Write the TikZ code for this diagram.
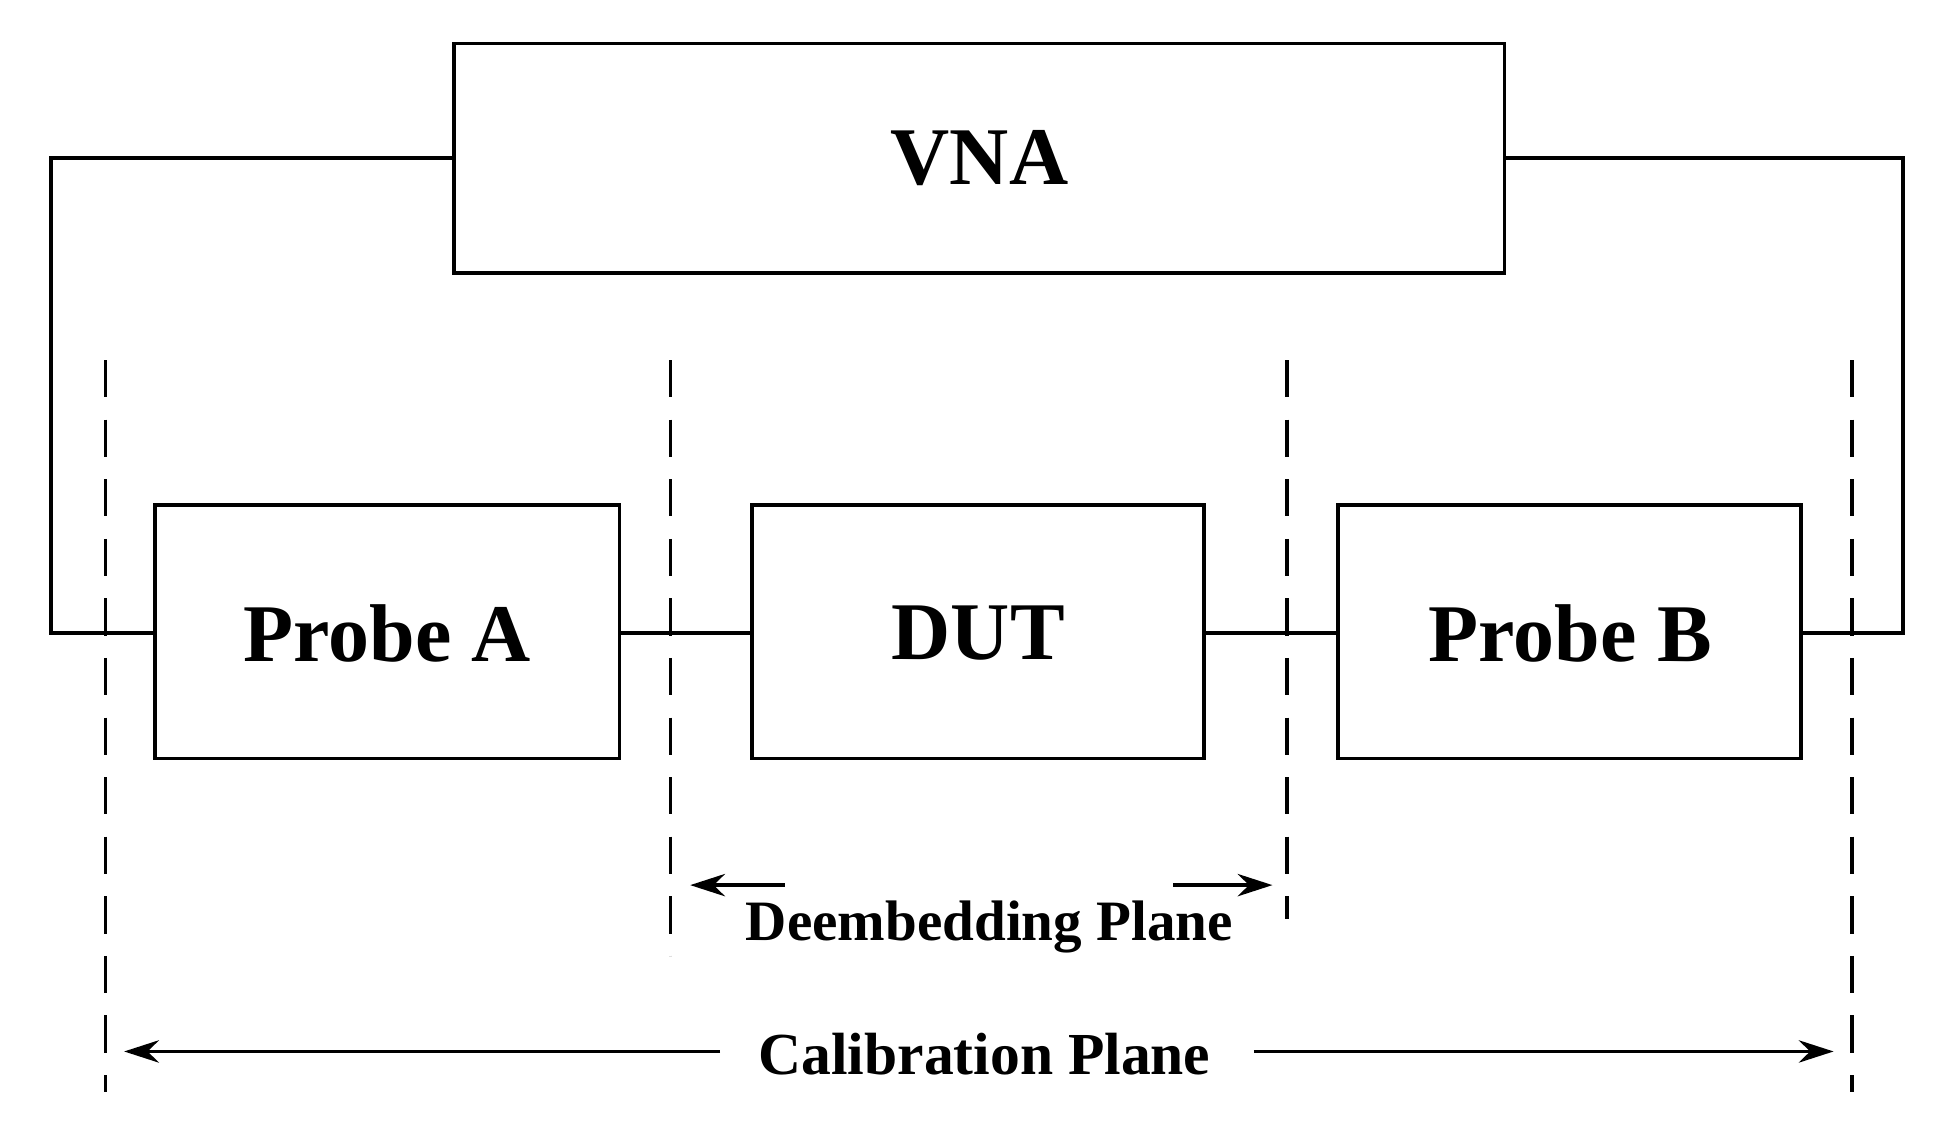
\documentclass[tikz,border=0pt]{standalone}
\usepackage{fontspec}
\setmainfont{Liberation Serif}
\usetikzlibrary{arrows.meta}
\begin{document}
\begin{tikzpicture}[x=0.5pt,y=-0.5pt,line width=1.5pt,
 dsh/.style={dash pattern=on 15pt off 9pt},
 arr/.style={-{Stealth[length=14pt,width=9pt]}},
 lbl/.style={font=\bfseries\fontsize{33}{40}\selectfont}]
\useasboundingbox (0,0) rectangle (1570,914);
\draw (366,35) rectangle (1212,220);
\node[lbl] (vna) at (789,127) {VNA};
\draw (125,407) rectangle (499,611);
\node[lbl] (pa) at (312,510) {Probe A};
\draw (606,407) rectangle (970,611);
\node[lbl] (dut) at (788,510) {DUT};
\draw (1078,407) rectangle (1451,611);
\node[lbl] (pb) at (1265,510) {Probe B};
\draw (366,127) -- (41,127) -- (41,510) -- (125,510);
\draw (499,510) -- (606,510);
\draw (970,510) -- (1078,510);
\draw (1451,510) -- (1533,510) -- (1533,127) -- (1212,127);
\draw[dsh] (85,290) -- (85,880);
\draw[dsh] (540,290) -- (540,770);
\draw[dsh] (1037,290) -- (1037,740);
\draw[dsh] (1492,290) -- (1492,880);
\coordinate (d1) at (632,713); \coordinate (d1e) at (556,713);
\coordinate (d2) at (945,713); \coordinate (d2e) at (1025,713);
\draw[arr] (d1) -- (d1e);
\draw[arr] (d2) -- (d2e);
\node[font=\bfseries\fontsize{23}{28}\selectfont] (dp) at (797,747) {Deembedding Plane};
\coordinate (c1) at (580,847); \coordinate (c1e) at (100,847);
\coordinate (c2) at (1010,847); \coordinate (c2e) at (1477,847);
\draw[arr] (c1) -- (c1e);
\draw[arr] (c2) -- (c2e);
\node[font=\bfseries\fontsize{24}{30}\selectfont] (cp) at (793,849) {Calibration Plane};
\end{tikzpicture}
\end{document}
